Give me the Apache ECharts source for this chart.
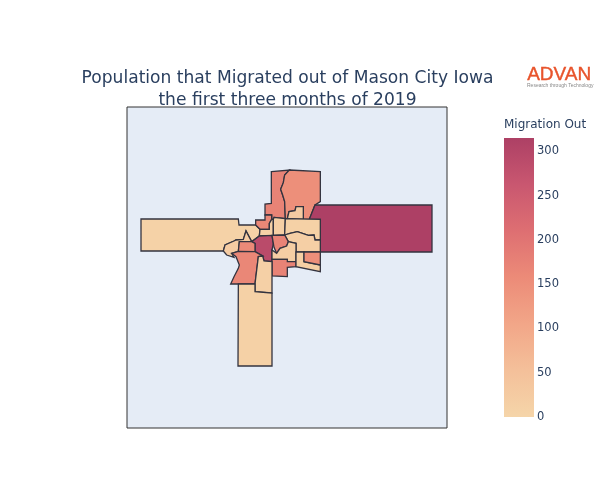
<!DOCTYPE html>
<html>
<head>
<meta charset="utf-8">
<style>html,body{margin:0;padding:0;background:#fff}#main{width:600px;height:500px}</style>
<script src="https://cdn.jsdelivr.net/npm/echarts@6/dist/echarts.min.js"></script>
</head>
<body>
<div id="main"></div>
<script>
const regionNames = ['north1','north2','notch','east','west','nw','center1','center2','centerE1','centerE2','core','coreE','southC','southE','seTan','seSalmon','swTan','swSmall','swBig','south1','south2'];
const migrationOut = [172,150,25,315,8,165,12,15,10,14,290,170,18,172,16,150,22,160,165,12,10];
// outlines in map units, y grows downward
const regionOutlines = [
  [[184,35],[238,30],[224,45],[220,68],[212,88],[218,105],[224,125],[226,176],[192,172],[190,178],[185,178],[185,165],[165,165],[165,132],[184,130]],
  [[238,30],[331,35],[331,125],[315,135],[298,178],[280,178],[280,140],[258,140],[255,152],[237,155],[232,176],[226,176],[224,125],[218,105],[212,88],[220,68],[224,45]],
  [[280,178],[280,140],[258,140],[255,152],[237,155],[232,176]],
  [[315,135],[666,135],[666,276],[331,276],[331,178],[298,178]],
  [[-207,177],[85,177],[87,195],[137,195],[150,208],[148,228],[125,245],[108,213],[100,238],[78,240],[72,243],[45,255],[40,273],[-207,273]],
  [[137,180],[165,180],[165,165],[185,165],[185,178],[178,190],[178,208],[150,208],[137,195]],
  [[150,208],[178,208],[178,190],[185,178],[190,178],[190,226],[148,228]],
  [[192,172],[226,176],[224,225],[190,226],[190,178]],
  [[226,176],[331,178],[331,240],[315,240],[312,225],[295,226],[262,215],[240,220],[224,225]],
  [[224,225],[240,220],[262,215],[295,226],[312,225],[315,240],[331,240],[331,276],[258,276],[258,250],[235,245]],
  [[148,228],[186,226],[190,250],[186,270],[186,305],[162,303],[158,288],[135,275],[135,250],[125,245]],
  [[186,226],[224,225],[235,245],[230,258],[210,265],[200,280],[192,262],[190,250]],
  [[230,258],[235,245],[258,250],[258,305],[232,305],[232,298],[186,298],[186,270],[200,280],[210,265]],
  [[186,298],[232,298],[232,305],[258,305],[258,320],[232,322],[232,350],[186,348]],
  [[258,276],[282,276],[282,305],[331,315],[331,335],[258,320]],
  [[282,276],[331,276],[331,315],[282,305]],
  [[40,273],[45,255],[72,243],[78,240],[100,238],[108,213],[125,245],[88,245],[85,274],[65,280],[72,292],[50,285]],
  [[88,245],[125,245],[135,250],[135,275],[85,274]],
  [[65,280],[85,274],[135,275],[158,288],[145,290],[135,372],[85,372],[62,372],[72,350],[85,325],[88,315],[78,290]],
  [[145,290],[158,288],[162,303],[186,305],[186,399],[135,395],[135,372]],
  [[85,372],[135,372],[135,395],[186,399],[186,618],[84,618]]
];
const barTicks = [0,50,100,150,200,250,300];
const barMax = 315;
const barColors = ['#f5d5a9','#f4c09a','#f2a688','#ec8b78','#de6f72','#c95770','#ad4065'];

echarts.registerMap('mason', {
  type: 'FeatureCollection',
  features: regionNames.map(function (n, i) {
    return {
      type: 'Feature',
      properties: { name: n },
      geometry: {
        type: 'Polygon',
        coordinates: [regionOutlines[i].concat([regionOutlines[i][0]]).map(function (p) { return [p[0], -p[1]]; })]
      }
    };
  })
});

var chart = echarts.init(document.getElementById('main'));
var textColor = '#2a3f5f';
chart.setOption({
  animation: false,
  title: {
    text: 'Population that Migrated out of Mason City Iowa\nthe first three months of 2019',
    left: 282.5, top: 63, textAlign: 'center',
    textStyle: { fontFamily: 'DejaVu Sans', fontSize: 17.1, fontWeight: 'normal', color: textColor, lineHeight: 22 }
  },
  grid: [
    { left: 127, top: 107, width: 320, height: 321, show: true, backgroundColor: '#e5ecf6', borderColor: '#333', borderWidth: 1 },
    { left: 504, top: 138, width: 30, height: 279 }
  ],
  xAxis: [{ gridIndex: 0, show: false }, { gridIndex: 1, show: false, type: 'category', data: ['Migration Out'] }],
  yAxis: [
    { gridIndex: 0, show: false },
    {
      gridIndex: 1, type: 'value', position: 'right', min: 0, max: barMax, interval: 50,
      splitLine: { show: false }, axisLine: { show: false }, axisTick: { show: false },
      axisLabel: { show: true, margin: 3, fontFamily: 'DejaVu Sans', fontSize: 11.5, color: textColor, showMaxLabel: false,
        formatter: function (v) { return barTicks.indexOf(v) >= 0 ? String(v) : ''; } }
    }
  ],
  visualMap: {
    show: false, type: 'continuous', min: 0, max: barMax,
    inRange: { color: barColors }, seriesIndex: 0
  },
  geo: {
    map: 'mason', left: 127, top: 107, width: 320, height: 321, aspectScale: 1, z: 5,
    boundingCoords: [[-249, 159], [711, -804]],
    silent: true, roam: false, label: { show: false },
    itemStyle: { areaColor: '#e5ecf6', borderColor: '#33333f', borderWidth: 1.3 }
  },
  series: [
    {
      type: 'map', geoIndex: 0, silent: true,
      data: regionNames.map(function (n, i) { return { name: n, value: migrationOut[i] }; })
    },
    {
      type: 'bar', xAxisIndex: 1, yAxisIndex: 1, barWidth: '100%', silent: true,
      data: [barMax],
      itemStyle: {
        color: new echarts.graphic.LinearGradient(0, 1, 0, 0, barColors.map(function (c, i) {
          return { offset: i / (barColors.length - 1), color: c };
        }))
      }
    }
  ],
  graphic: [
    { type: 'text', left: 504, top: 119, style: { text: 'Migration Out', font: '12px "DejaVu Sans"', fill: textColor } },
    { type: 'text', left: 527, top: 65, style: { text: 'ADVAN', font: '19px "Liberation Sans"', fill: '#e8532b', stroke: '#e8532b', lineWidth: 0.4 } },
    { type: 'text', left: 527, top: 83, style: { text: 'Research through Technology', font: '5px "Liberation Sans"', fill: '#888' } }
  ]
});
</script>
</body>
</html>
